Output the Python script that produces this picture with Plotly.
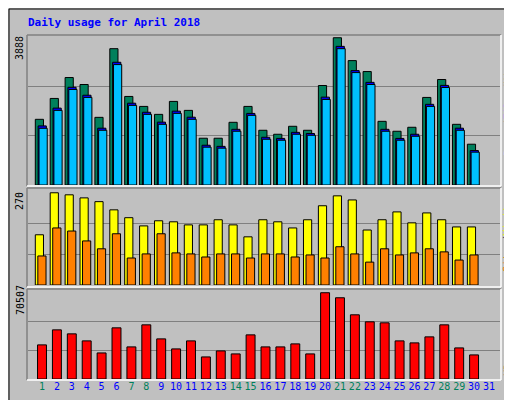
import plotly.graph_objects as go

days = list(range(1, 32))
hits = [1734, 2285, 2837, 2653, 1786, 3599, 2338, 2075, 1865, 2207, 1970, 1235, 1235, 1655, 2075,
        1445, 1340, 1550, 1445, 2627, 3888, 3284, 2995, 1681, 1419, 1524, 2312, 2785, 1602, 1077, None]
files = [1560, 2030, 2580, 2370, 1500, 3240, 2160, 1920, 1660, 1950, 1790, 1050, 1020, 1470, 1890,
         1260, 1230, 1390, 1360, 2320, 3660, 3020, 2710, 1470, 1230, 1340, 2130, 2630, 1500, 910, None]
pages = [1497, 1970, 2522, 2312, 1445, 3179, 2102, 1865, 1602, 1891, 1734, 998, 972, 1419, 1839,
         1208, 1182, 1340, 1313, 2259, 3599, 2968, 2653, 1419, 1182, 1287, 2075, 2574, 1445, 867, None]
visits = [147, 270, 264, 255, 244, 220, 197, 173, 188, 185, 176, 176, 191, 176, 141,
          191, 185, 167, 191, 232, 261, 249, 161, 191, 214, 182, 211, 191, 170, 170, None]
sites = [85, 167, 158, 129, 106, 150, 79, 91, 150, 94, 91, 82, 91, 91, 79,
         91, 91, 82, 88, 79, 112, 91, 67, 106, 88, 94, 106, 97, 73, 88, None]
kbytes = [27874, 40170, 36900, 31150, 21300, 41810, 26230, 44270, 32790, 24590, 31150, 18040, 22950, 20500, 36070,
          26230, 26230, 28690, 20500, 70507, 66400, 52470, 46730, 45910, 31150, 29510, 34430, 44270, 25410, 19680, None]
weekend = [1, 7, 8, 14, 15, 21, 22, 28, 29]
hits_max, visits_max, kb_max = 3888, 270, 70507

H = 400.0
def py(p):  # pixel row -> paper y
    return 1 - p / H

fig = go.Figure()
line = dict(color="black", width=1)

def bars(y, color, offset, width, yaxis):
    fig.add_bar(x=days, y=y, marker=dict(color=color, line=line), offset=offset,
                width=width, yaxis=yaxis, xaxis="x")

bars(hits, "#00805C", -0.45, 0.55, "y")
bars(files, "#0000FF", -0.26, 0.55, "y")
bars(pages, "#00C0FF", -0.2, 0.55, "y")
bars(visits, "#FFFF00", -0.45, 0.55, "y2")
bars(sites, "#FF8000", -0.28, 0.55, "y2")
bars(kbytes, "#FF0000", -0.3, 0.6, "y3")

ticktext = [f"<span style='color:{'#00805C' if d in weekend else '#0000FF'}'>{d}</span>" for d in days]

grid = dict(showticklabels=False, gridcolor="#808080", zeroline=False, showline=False, ticks="")
fig.update_layout(
    width=512, height=400, margin=dict(l=0, r=0, t=0, b=0),
    paper_bgcolor="#C0C0C0", plot_bgcolor="#C0C0C0", showlegend=False, barmode="overlay",
    font=dict(family="DejaVu Sans Mono", size=10),
    xaxis=dict(domain=[20 / 512, 492 / 512], range=[0.06, 31.74], tickvals=days, ticktext=ticktext,
               showgrid=False, anchor="y3", tickfont=dict(size=10), tickangle=0, ticks=""),
    yaxis=dict(domain=[py(177), py(29)], range=[0, hits_max * 1.005], tickvals=[hits_max / 3, hits_max * 2 / 3], **grid),
    yaxis2=dict(domain=[py(277), py(182)], range=[0, visits_max * 1.03], tickvals=[visits_max / 3, visits_max * 2 / 3], **grid),
    yaxis3=dict(domain=[py(371), py(283)], range=[0, kb_max * 1.02], tickvals=[kb_max / 3, kb_max * 2 / 3], **grid),
)

# panel bevels
shapes = [dict(type="rect", xref="paper", yref="paper", x0=1 / 512, x1=511 / 512, y0=py(399), y1=py(1),
               line=dict(color="black", width=1))]
for top, bot in [(27, 178), (180, 279), (281, 372)]:
    shapes.append(dict(type="line", xref="paper", yref="paper", x0=19 / 512, x1=493 / 512, y0=py(top), y1=py(top),
                       line=dict(color="#808080", width=1.5)))
    shapes.append(dict(type="line", xref="paper", yref="paper", x0=19 / 512, x1=19 / 512, y0=py(top), y1=py(bot),
                       line=dict(color="#808080", width=1.5)))
    shapes.append(dict(type="line", xref="paper", yref="paper", x0=19 / 512, x1=493 / 512, y0=py(bot), y1=py(bot),
                       line=dict(color="white", width=1.5)))
    shapes.append(dict(type="line", xref="paper", yref="paper", x0=493 / 512, x1=493 / 512, y0=py(top), y1=py(bot),
                       line=dict(color="white", width=1.5)))
fig.update_layout(shapes=shapes)

ann = [dict(text="<b>Daily usage for April 2018</b>", x=18 / 512, y=py(15), xanchor="left", yanchor="middle",
            font=dict(color="#0000FF", size=11))]
for txt, ypix in [(str(hits_max), 40), (str(visits_max), 193), (str(kb_max), 292)]:
    ann.append(dict(text=txt, x=12 / 512, y=py(ypix), textangle=-90, xanchor="center", yanchor="middle",
                    font=dict(color="black", size=10)))
right = [("<span style='color:#00C0FF'>Pages</span>/<span style='color:#0000FF'>Files</span>/"
          "<span style='color:#00805C'>Hits</span>", 100),
         ("<span style='color:#FF8000'>Sites</span>/<span style='color:#FFFF00'>Visits</span>", 228),
         ("<span style='color:#FF0000'>KBytes</span>", 350)]
for txt, ypix in right:
    ann.append(dict(text=txt, x=500 / 512, y=py(ypix), textangle=-90, xanchor="center", yanchor="middle",
                    font=dict(size=10)))
fig.update_layout(annotations=[dict(xref="paper", yref="paper", showarrow=False, **a) for a in ann])

fig.write_html("out.html")
